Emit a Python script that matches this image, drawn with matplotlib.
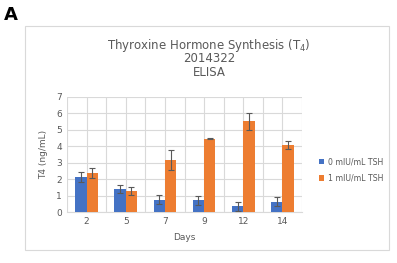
import matplotlib.pyplot as plt
import numpy as np
from matplotlib.patches import Rectangle

days = ["2", "5", "7", "9", "12", "14"]
tsh0 = [2.12, 1.40, 0.75, 0.72, 0.35, 0.62]
tsh0_err = [0.30, 0.27, 0.27, 0.27, 0.27, 0.28]
tsh1 = [2.37, 1.27, 3.17, 4.45, 5.52, 4.10]
tsh1_err = [0.33, 0.25, 0.62, 0.03, 0.50, 0.24]
series_labels = ["0 mIU/mL TSH", "1 mIU/mL TSH"]

W, H = 397, 263
fig = plt.figure(figsize=(W/100, H/100), dpi=100)
gray = "#595959"

# chart frame
fig.patches.append(Rectangle((25/W, 1-250/H), (389-25)/W, (250-26)/H, transform=fig.transFigure,
                             fill=False, edgecolor="#d9d9d9", lw=0.8))

ax = fig.add_axes([67/W, 1-212/H, (302-67)/W, (212-97)/H])
x = np.arange(len(days))
w = 0.29
ax.bar(x - w/2, tsh0, w, color="#4472C4", label=series_labels[0], zorder=3)
ax.bar(x + w/2, tsh1, w, color="#ED7D31", label=series_labels[1], zorder=3)
ax.errorbar(x - w/2, tsh0, yerr=tsh0_err, fmt="none", ecolor="#595959", elinewidth=0.8, capsize=2, capthick=0.8, zorder=4)
ax.errorbar(x + w/2, tsh1, yerr=tsh1_err, fmt="none", ecolor="#595959", elinewidth=0.8, capsize=2, capthick=0.8, zorder=4)

ax.set_xlim(-0.5, len(days) - 0.5)
ax.set_ylim(0, 7)
ax.set_yticks(range(0, 8))
ax.set_xticks(x)
ax.set_xticklabels(days)
ax.set_xticks(np.arange(-0.5, len(days), 0.5), minor=True)
ax.xaxis.remove_overlapping_locs = False
ax.tick_params(which="both", length=0, labelsize=6.5, colors=gray)
ax.tick_params(axis="x", which="minor", labelbottom=False)
ax.grid(True, which="major", axis="y", color="#d9d9d9", lw=0.8, zorder=0)
ax.grid(True, which="minor", axis="x", color="#d9d9d9", lw=0.8, zorder=0)
for s in ["top", "right", "left"]:
    ax.spines[s].set_visible(False)
ax.spines["bottom"].set_color("#d9d9d9")
ax.set_xlabel("Days", fontsize=6.5, color=gray, labelpad=5)
ax.set_ylabel("T4 (ng/mL)", fontsize=6.5, color=gray, labelpad=6)

ax.legend(loc="center left", bbox_to_anchor=(312/W, 1-170/H), bbox_transform=fig.transFigure,
          frameon=False, fontsize=5.6, labelcolor=gray, handlelength=0.7, handleheight=0.7,
          handletextpad=0.4, labelspacing=1.0)

fig.text(209/W, 1-45/H, "Thyroxine Hormone Synthesis (T$_4$)", ha="center", va="center", fontsize=8.5, color=gray)
fig.text(209/W, 1-59/H, "2014322", ha="center", va="center", fontsize=8.5, color=gray)
fig.text(209/W, 1-73/H, "ELISA", ha="center", va="center", fontsize=8.5, color=gray)
fig.text(4/W, 1-15/H, "A", ha="left", va="center", fontsize=13, fontweight="bold", color="black")

fig.savefig("out.png", dpi=100)
